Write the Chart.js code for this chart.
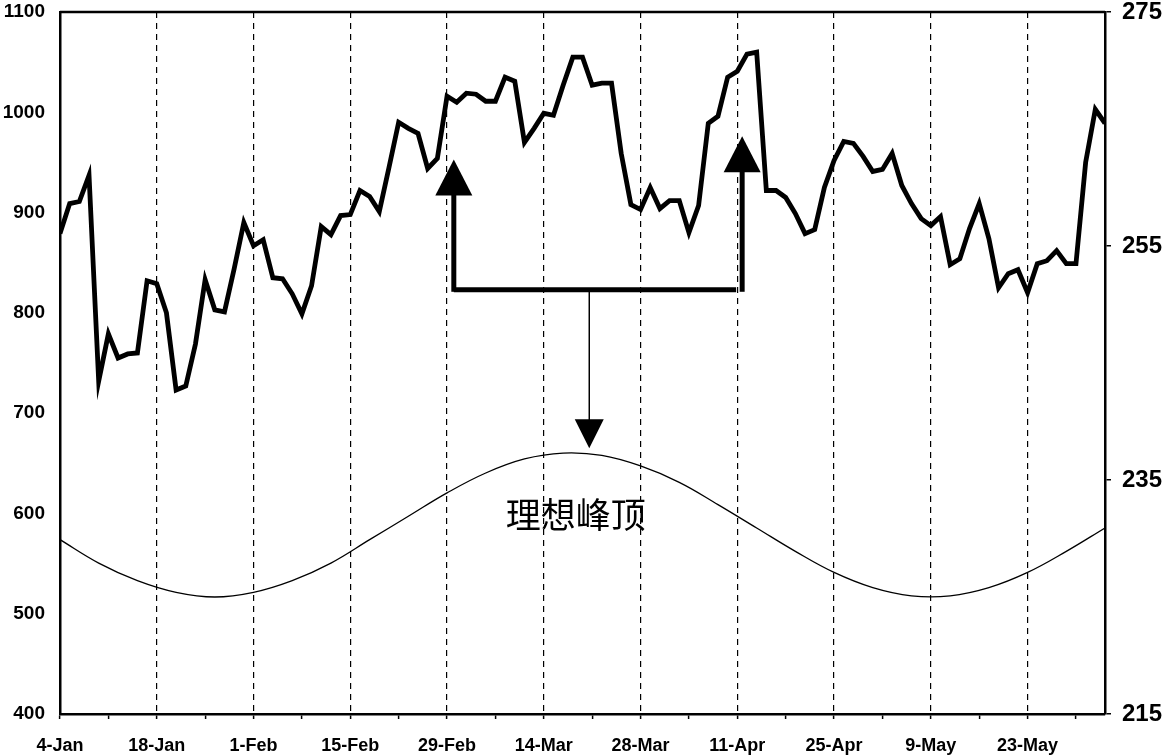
<!DOCTYPE html>
<html>
<head>
<meta charset="utf-8">
<script src="https://cdn.jsdelivr.net/npm/chart.js@4.4.1/dist/chart.umd.min.js"></script>
<style>
    body { margin: 0; background: #fff; }
    #wrap { width: 1168px; height: 756px; }
</style>
</head>
<body>
<div id="wrap"><canvas id="cycleChart" width="1168" height="756"></canvas></div>
<script>
// tick labels, one every 10 trading days
const dateLabels = ['4-Jan', '18-Jan', '1-Feb', '15-Feb', '29-Feb', '14-Mar', '28-Mar', '11-Apr', '25-Apr', '9-May', '23-May'];

// daily closes (left axis)
const priceValues = [
    879, 909, 911, 937, 732, 779, 755, 759, 760, 832,
    829, 800, 723, 727, 769, 833, 803, 801, 844, 890,
    867, 873, 835, 834, 819, 799, 827, 886, 878, 897,
    898, 922, 916, 901, 945, 990, 984, 979, 944, 954,
    1016, 1010, 1019, 1018, 1011, 1011, 1035, 1031, 970, 984,
    999, 997, 1027, 1055, 1055, 1027, 1029, 1029, 959, 908,
    903, 925, 904, 912, 912, 880, 907, 989, 996, 1035,
    1041, 1058, 1060, 922, 922, 915, 899, 879, 883, 925,
    952, 971, 969, 956, 941, 943, 959, 927, 909, 894,
    887, 896, 848, 854, 884, 909, 874, 825, 839, 843,
    820, 849, 852, 862, 849, 849, 950, 1003, 989
];

// ideal cycle curve (right axis), read every 4 days
const cycleDays = [0, 4, 8, 12, 16, 20, 24, 28, 32, 36, 40, 44, 48, 52, 56, 60, 64, 68, 72, 76, 80, 84, 88, 92, 96, 100, 104, 108];
const cycleValues = [229.9, 227.9, 226.4, 225.4, 225.0, 225.4, 226.4, 227.9, 229.9, 231.9, 233.9, 235.6, 236.8, 237.3,
    237.1, 236.2, 234.8, 232.9, 230.9, 228.9, 227.1, 225.8, 225.1, 225.1, 225.8, 227.1, 228.9, 230.9];

const peakText = '理想峰顶';

// annotation anchors in chart units (day index, left-axis price)
const lowDays = [40.7, 70.5];
const lowTips = [953, 976];
const bracketLevel = 823;
const peakDay = 54.7;
const peakTip = 665;
const textAnchor = { x: 53.3, y: 599 };

function arrowHead(ctx, x, tipY, w, h, up) {
    ctx.beginPath();
    ctx.moveTo(x, tipY);
    ctx.lineTo(x - w / 2, up ? tipY + h : tipY - h);
    ctx.lineTo(x + w / 2, up ? tipY + h : tipY - h);
    ctx.closePath();
    ctx.fill();
}

const annotations = {
    id: 'annotations',
    afterDatasetsDraw(chart) {
        const ctx = chart.ctx;
        const xs = chart.scales.x;
        const ys = chart.scales.y;
        const area = chart.chartArea;
        ctx.save();
        ctx.strokeStyle = '#000';
        ctx.fillStyle = '#000';

        // frame top line
        ctx.lineWidth = 2.5;
        ctx.beginPath();
        ctx.moveTo(area.left, area.top);
        ctx.lineTo(area.right, area.top);
        ctx.stroke();

        const base = ys.getPixelForValue(bracketLevel);
        const xl = xs.getPixelForValue(lowDays[0]);
        const xr = xs.getPixelForValue(lowDays[1]);

        // bracket joining the two lows
        ctx.lineWidth = 5;
        ctx.lineCap = 'butt';
        ctx.beginPath();
        ctx.moveTo(xl, base);
        ctx.lineTo(xr - 6, base);
        ctx.stroke();

        lowDays.forEach((d, i) => {
            const x = xs.getPixelForValue(d);
            const tip = ys.getPixelForValue(lowTips[i]);
            ctx.beginPath();
            ctx.moveTo(x, base + 2);
            ctx.lineTo(x, tip + 30);
            ctx.stroke();
            arrowHead(ctx, x, tip, 37, 36, true);
        });

        // thin arrow down to the ideal peak
        const xp = xs.getPixelForValue(peakDay);
        const tipP = ys.getPixelForValue(peakTip);
        ctx.lineWidth = 1.5;
        ctx.beginPath();
        ctx.moveTo(xp, base);
        ctx.lineTo(xp, tipP - 25);
        ctx.stroke();
        arrowHead(ctx, xp, tipP, 29, 29, false);

        ctx.font = '35px "Noto Sans CJK SC", sans-serif';
        ctx.textAlign = 'center';
        ctx.textBaseline = 'middle';
        ctx.fillText(peakText, xs.getPixelForValue(textAnchor.x), ys.getPixelForValue(textAnchor.y));
        ctx.restore();
    }
};

// keep the plot box fixed: 12px above, axis strip sizes below/left/right
function fitSide(width) {
    return s => {
        s.width = width;
        s.paddingTop = 12;
        s.paddingBottom = 0;
    };
}

const ctx = document.getElementById('cycleChart').getContext('2d');
new Chart(ctx, {
    type: 'line',
    data: {
        datasets: [
            {
                label: 'Price',
                data: priceValues.map((v, i) => ({ x: i, y: v })),
                borderColor: '#000',
                borderWidth: 4.8,
                pointRadius: 0,
                tension: 0,
                yAxisID: 'y'
            },
            {
                label: 'Cycle',
                data: cycleDays.map((d, i) => ({ x: d, y: cycleValues[i] })),
                borderColor: '#000',
                borderWidth: 1.3,
                pointRadius: 0,
                tension: 0.4,
                yAxisID: 'y2'
            }
        ]
    },
    options: {
        responsive: false,
        animation: false,
        layout: { padding: 0 },
        plugins: {
            legend: { display: false },
            tooltip: { enabled: false }
        },
        scales: {
            x: {
                type: 'linear',
                min: 0,
                max: 108,
                afterFit: s => { s.height = 42; },
                ticks: {
                    stepSize: 5,
                    includeBounds: false,
                    autoSkip: false,
                    maxRotation: 0,
                    padding: 16,
                    color: '#000',
                    font: { family: '"Liberation Sans", Arial, sans-serif', size: 18, weight: 'bold' },
                    callback: v => (v % 10 === 0 ? dateLabels[v / 10] : '')
                },
                grid: {
                    color: c => (c.tick && c.tick.value % 10 === 0 && c.tick.value > 0 ? '#000' : 'rgba(0,0,0,0)'),
                    lineWidth: 1.2,
                    tickColor: '#000',
                    tickLength: 5,
                    tickWidth: 1.5
                },
                border: { color: '#000', width: 2.5, dash: [6, 5] }
            },
            y: {
                position: 'left',
                min: 400,
                max: 1100,
                afterFit: fitSide(60),
                ticks: {
                    stepSize: 100,
                    padding: 15,
                    color: '#000',
                    font: { family: '"Liberation Sans", Arial, sans-serif', size: 19, weight: 'bold' },
                    callback: v => String(v)
                },
                grid: { display: false, drawTicks: false },
                border: { display: true, color: '#000', width: 2.5 }
            },
            y2: {
                position: 'right',
                min: 215,
                max: 275,
                afterFit: fitSide(63),
                ticks: {
                    stepSize: 20,
                    padding: 11,
                    color: '#000',
                    font: { family: '"Liberation Sans", Arial, sans-serif', size: 24, weight: 'bold' },
                    callback: v => String(v)
                },
                grid: { drawOnChartArea: false, color: '#000', tickLength: 6, lineWidth: 1.5 },
                border: { color: '#000', width: 2.5 }
            }
        }
    },
    plugins: [annotations]
});
</script>
</body>
</html>
